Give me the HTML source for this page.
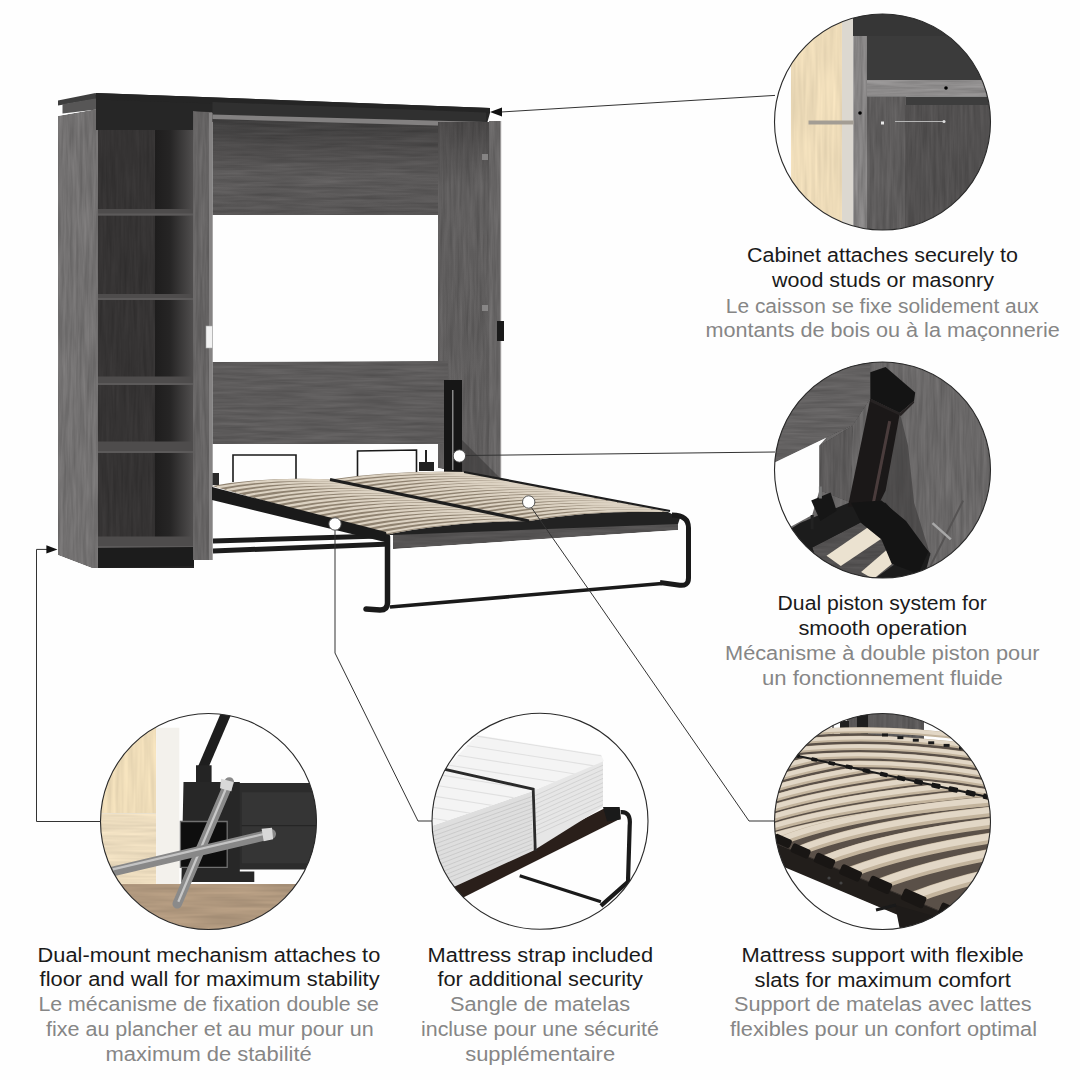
<!DOCTYPE html>
<html><head><meta charset="utf-8">
<style>
html,body{margin:0;padding:0;background:#fefefe;}
body{width:1080px;height:1080px;overflow:hidden;}
svg{display:block;}
text{font-family:"Liberation Sans",sans-serif;font-size:20px;}
.h{fill:#1a1a1a;}
.f{fill:#868686;}
</style></head><body>
<svg width="1080" height="1080" viewBox="0 0 1080 1080">
<defs>
<clipPath id="c1"><circle cx="882.5" cy="122" r="108"/></clipPath>
<clipPath id="c2"><circle cx="882.5" cy="470" r="108"/></clipPath>
<clipPath id="c3"><circle cx="882.5" cy="821.5" r="108"/></clipPath>
<clipPath id="c4"><circle cx="540" cy="821.3" r="108"/></clipPath>
<clipPath id="c5"><circle cx="208.5" cy="821.5" r="108"/></clipPath>
<filter id="gv" x="0" y="0" width="1" height="1" color-interpolation-filters="sRGB">
 <feTurbulence type="fractalNoise" baseFrequency="0.3 0.02" numOctaves="3" seed="4" result="n"/>
 <feColorMatrix in="n" type="matrix" values="1 0 0 0 0  1 0 0 0 0  1 0 0 0 0  0 0 0 0 1" result="g"/>
 <feComposite in="SourceGraphic" in2="g" operator="arithmetic" k1="0.32" k2="0.84" k3="0" k4="0" result="m"/>
 <feComposite in="m" in2="SourceGraphic" operator="in"/>
</filter>
<filter id="gh" x="0" y="0" width="1" height="1" color-interpolation-filters="sRGB">
 <feTurbulence type="fractalNoise" baseFrequency="0.02 0.3" numOctaves="3" seed="7" result="n"/>
 <feColorMatrix in="n" type="matrix" values="1 0 0 0 0  1 0 0 0 0  1 0 0 0 0  0 0 0 0 1" result="g"/>
 <feComposite in="SourceGraphic" in2="g" operator="arithmetic" k1="0.32" k2="0.84" k3="0" k4="0" result="m"/>
 <feComposite in="m" in2="SourceGraphic" operator="in"/>
</filter>
<filter id="gw" x="0" y="0" width="1" height="1" color-interpolation-filters="sRGB">
 <feTurbulence type="fractalNoise" baseFrequency="0.25 0.015" numOctaves="2" seed="11" result="n"/>
 <feColorMatrix in="n" type="matrix" values="1 0 0 0 0  1 0 0 0 0  1 0 0 0 0  0 0 0 0 1" result="g"/>
 <feComposite in="SourceGraphic" in2="g" operator="arithmetic" k1="0.14" k2="0.93" k3="0" k4="0" result="m"/>
 <feComposite in="m" in2="SourceGraphic" operator="in"/>
</filter>
<filter id="gwh" x="0" y="0" width="1" height="1" color-interpolation-filters="sRGB">
 <feTurbulence type="fractalNoise" baseFrequency="0.015 0.25" numOctaves="2" seed="12" result="n"/>
 <feColorMatrix in="n" type="matrix" values="1 0 0 0 0  1 0 0 0 0  1 0 0 0 0  0 0 0 0 1" result="g"/>
 <feComposite in="SourceGraphic" in2="g" operator="arithmetic" k1="0.2" k2="0.9" k3="0" k4="0" result="m"/>
 <feComposite in="m" in2="SourceGraphic" operator="in"/>
</filter>
</defs>
<rect width="1080" height="1080" fill="#fefefe"/>
<g id="cabinet">
<linearGradient id="bcR" x1="0" y1="0" x2="1" y2="0"><stop offset="0" stop-color="#1e1d1d"/><stop offset="0.4" stop-color="#262525"/><stop offset="1" stop-color="#504e4e"/></linearGradient>
<rect x="97" y="100" width="97" height="468" fill="#262525"/>
<g filter="url(#gv)"><rect x="98" y="128" width="58" height="412" fill="#353333"/></g>
<rect x="155" y="128" width="38" height="412" fill="url(#bcR)"/>
<rect x="97" y="100" width="97" height="30" fill="#1f1f1f"/>
<rect x="98" y="209" width="96" height="6.5" fill="#4e4c4c"/>
<rect x="98" y="213.5" width="96" height="2" fill="#5c5a5a"/>
<rect x="98" y="294" width="96" height="6" fill="#4e4c4c"/>
<rect x="98" y="298" width="96" height="2" fill="#5c5a5a"/>
<rect x="98" y="376.5" width="96" height="8.5" fill="#4e4c4c"/>
<rect x="98" y="383" width="96" height="2" fill="#5c5a5a"/>
<rect x="98" y="441.5" width="96" height="11.5" fill="#4e4c4c"/>
<rect x="98" y="451" width="96" height="2" fill="#5c5a5a"/>
<rect x="98" y="536.5" width="96" height="11.5" fill="#4e4c4c"/>
<rect x="98" y="546" width="96" height="2" fill="#5c5a5a"/>
<polygon points="92.0,548.0 194.0,547.0 194.0,566.0 92.0,568.0" fill="#1c1c1c"/>
<g filter="url(#gv)"><polygon points="58.0,116.0 98.0,109.0 98.0,568.0 92.0,568.0 58.0,555.0" fill="#737171"/></g>
<polygon points="58.0,100.5 95.5,93.0 97.0,99.0 58.0,105.5" fill="#3e3e3e"/>
<polygon points="62.5,104.2 97.0,98.2 97.0,109.5 62.5,113.5" fill="#575656"/>
<polygon points="96.0,93.0 490.0,108.0 490.0,113.0 486.0,127.0 212.5,122.0 193.0,113.0 193.0,130.0 96.0,130.0" fill="#262626"/>
<polygon points="95.5,93.0 490.0,108.0 490.0,113.0 96.0,99.5" fill="#252525"/>
<polygon points="212.5,102.0 486.0,112.5 486.0,123.0 212.5,115.0" fill="#303030"/>
<g filter="url(#gv)"><polygon points="193.0,111.0 212.5,112.0 212.5,560.0 193.0,560.0" fill="#666464"/></g>
<rect x="209" y="113" width="3.5" height="447" fill="#858383"/>
<linearGradient id="ubp" x1="0" y1="0" x2="0" y2="1"><stop offset="0" stop-color="#3e3d3d"/><stop offset="0.6" stop-color="#5c5a5a"/><stop offset="1" stop-color="#575555"/></linearGradient>
<g filter="url(#gh)"><polygon points="212.5,118.0 486.0,124.0 486.0,215.0 212.5,215.0" fill="url(#ubp)"/></g>
<polygon points="212.5,114.5 486.0,122.0 486.0,127.0 212.5,119.0" fill="#838181"/>
<linearGradient id="rsp" x1="0" y1="0" x2="0" y2="1"><stop offset="0" stop-color="#4a4848"/><stop offset="0.18" stop-color="#605e5e"/><stop offset="1" stop-color="#5f5d5d"/></linearGradient>
<g filter="url(#gv)"><polygon points="438.0,122.0 489.0,122.0 489.0,478.0 438.0,468.0" fill="url(#rsp)"/></g>
<g filter="url(#gv)"><polygon points="489.0,121.0 501.0,121.0 501.0,480.0 489.0,478.0" fill="#676565"/></g>
<rect x="500" y="121" width="1.2" height="359" fill="#9a9898"/>
<g filter="url(#gh)"><polygon points="212.5,362.0 448.0,361.0 448.0,444.0 212.5,444.0" fill="#5d5b5b"/></g>
<rect x="482" y="154" width="6" height="6" fill="#9a9898" opacity="0.7"/>
<rect x="482" y="305" width="6" height="6" fill="#9a9898" opacity="0.7"/>
<rect x="206" y="326" width="6.5" height="22" fill="#f2f2f2" stroke="#aaa" stroke-width="0.6"/>
<rect x="497" y="321" width="7" height="20" fill="#1a1a1a"/>
<polygon points="444.0,380.0 462.0,380.0 462.0,473.0 444.0,473.0" fill="#161616"/>
<rect x="452" y="390" width="1.5" height="80" fill="#888"/>
<polygon points="462.0,440.0 500.0,478.0 462.0,478.0" fill="#3a3838" opacity="0.6"/>
</g>
<g id="bed">
<path d="M233,482 L233,455 L296,455 L296,480" stroke="#1a1a1a" stroke-width="1.6" fill="none"/>
<path d="M357.5,476 L357.5,451 L416.5,450 L416.5,474" stroke="#1a1a1a" stroke-width="1.6" fill="none"/>
<polygon points="419.0,462.0 434.0,462.0 434.0,471.0 419.0,471.0" fill="#222"/>
<path d="M426,450 L426,462" stroke="#222" stroke-width="2"/>
<polygon points="212.5,473.0 219.0,473.0 219.0,485.0 212.5,485.0" fill="#2a2a2a"/>
<path d="M213,541 L380,536" stroke="#1c1c1c" stroke-width="5"/>
<path d="M213,551 L390,544" stroke="#1c1c1c" stroke-width="5"/>
<g filter="url(#gh)"><polygon points="393.0,533.0 678.0,522.0 678.0,530.0 393.0,549.0" fill="#555353"/></g>
<path d="M385.5,535 Q450.1,521.7 529,521 Q591.5,510.0 668,512 L680,518 L678,524 L393,535 Z" fill="#222222"/>
<path d="M212.0,486.0 Q265.1,476.1 330.0,479.5 L529.0,521.0 Q450.1,521.7 385.5,535.0 Z" fill="#8f8270"/>
<path d="M216.8,487.4 Q270.2,477.3 335.5,480.7" stroke="#dcd2c2" stroke-width="2.1" fill="none"/>
<path d="M226.5,490.1 Q280.5,479.9 346.6,483.0" stroke="#dcd2c2" stroke-width="2.1" fill="none"/>
<path d="M236.1,492.8 Q290.8,482.4 357.6,485.3" stroke="#dcd2c2" stroke-width="2.1" fill="none"/>
<path d="M245.7,495.5 Q301.1,484.9 368.7,487.6" stroke="#dcd2c2" stroke-width="2.1" fill="none"/>
<path d="M255.4,498.2 Q311.3,487.5 379.8,489.9" stroke="#dcd2c2" stroke-width="2.1" fill="none"/>
<path d="M265.0,501.0 Q321.6,490.0 390.8,492.2" stroke="#dcd2c2" stroke-width="2.1" fill="none"/>
<path d="M274.7,503.7 Q331.9,492.6 401.9,494.5" stroke="#dcd2c2" stroke-width="2.1" fill="none"/>
<path d="M284.3,506.4 Q342.2,495.1 412.9,496.8" stroke="#dcd2c2" stroke-width="2.1" fill="none"/>
<path d="M293.9,509.1 Q352.4,497.6 424.0,499.1" stroke="#dcd2c2" stroke-width="2.1" fill="none"/>
<path d="M303.6,511.9 Q362.7,500.2 435.0,501.4" stroke="#dcd2c2" stroke-width="2.1" fill="none"/>
<path d="M313.2,514.6 Q373.0,502.7 446.1,503.7" stroke="#dcd2c2" stroke-width="2.1" fill="none"/>
<path d="M322.8,517.3 Q383.3,505.2 457.1,506.0" stroke="#dcd2c2" stroke-width="2.1" fill="none"/>
<path d="M332.5,520.0 Q393.6,507.8 468.2,508.3" stroke="#dcd2c2" stroke-width="2.1" fill="none"/>
<path d="M342.1,522.8 Q403.8,510.3 479.2,510.6" stroke="#dcd2c2" stroke-width="2.1" fill="none"/>
<path d="M351.8,525.5 Q414.1,512.8 490.3,512.9" stroke="#dcd2c2" stroke-width="2.1" fill="none"/>
<path d="M361.4,528.2 Q424.4,515.4 501.4,515.2" stroke="#dcd2c2" stroke-width="2.1" fill="none"/>
<path d="M371.0,530.9 Q434.7,517.9 512.4,517.5" stroke="#dcd2c2" stroke-width="2.1" fill="none"/>
<path d="M380.7,533.6 Q444.9,520.4 523.5,519.8" stroke="#dcd2c2" stroke-width="2.1" fill="none"/>
<path d="M330.0,479.5 Q390.3,470.1 464.0,472.0 L668.0,512.0 Q591.5,510.0 529.0,521.0 Z" fill="#8f8270"/>
<path d="M335.5,480.7 Q395.9,471.2 469.7,473.1" stroke="#dcd2c2" stroke-width="2.1" fill="none"/>
<path d="M346.6,483.0 Q407.1,473.4 481.0,475.3" stroke="#dcd2c2" stroke-width="2.1" fill="none"/>
<path d="M357.6,485.3 Q418.3,475.7 492.3,477.6" stroke="#dcd2c2" stroke-width="2.1" fill="none"/>
<path d="M368.7,487.6 Q429.4,477.9 503.7,479.8" stroke="#dcd2c2" stroke-width="2.1" fill="none"/>
<path d="M379.8,489.9 Q440.6,480.1 515.0,482.0" stroke="#dcd2c2" stroke-width="2.1" fill="none"/>
<path d="M390.8,492.2 Q451.8,482.3 526.3,484.2" stroke="#dcd2c2" stroke-width="2.1" fill="none"/>
<path d="M401.9,494.5 Q463.0,484.5 537.7,486.4" stroke="#dcd2c2" stroke-width="2.1" fill="none"/>
<path d="M412.9,496.8 Q474.2,486.7 549.0,488.7" stroke="#dcd2c2" stroke-width="2.1" fill="none"/>
<path d="M424.0,499.1 Q485.3,488.9 560.3,490.9" stroke="#dcd2c2" stroke-width="2.1" fill="none"/>
<path d="M435.0,501.4 Q496.5,491.1 571.7,493.1" stroke="#dcd2c2" stroke-width="2.1" fill="none"/>
<path d="M446.1,503.7 Q507.7,493.4 583.0,495.3" stroke="#dcd2c2" stroke-width="2.1" fill="none"/>
<path d="M457.1,506.0 Q518.9,495.6 594.3,497.6" stroke="#dcd2c2" stroke-width="2.1" fill="none"/>
<path d="M468.2,508.3 Q530.1,497.8 605.7,499.8" stroke="#dcd2c2" stroke-width="2.1" fill="none"/>
<path d="M479.2,510.6 Q541.2,500.0 617.0,502.0" stroke="#dcd2c2" stroke-width="2.1" fill="none"/>
<path d="M490.3,512.9 Q552.4,502.2 628.3,504.2" stroke="#dcd2c2" stroke-width="2.1" fill="none"/>
<path d="M501.4,515.2 Q563.6,504.4 639.7,506.4" stroke="#dcd2c2" stroke-width="2.1" fill="none"/>
<path d="M512.4,517.5 Q574.8,506.6 651.0,508.7" stroke="#dcd2c2" stroke-width="2.1" fill="none"/>
<path d="M523.5,519.8 Q586.0,508.8 662.3,510.9" stroke="#dcd2c2" stroke-width="2.1" fill="none"/>
<path d="M330,479.5 L529,521" stroke="#1e1e1e" stroke-width="3.2"/>
<polygon points="212.0,487.0 386.0,532.0 389.0,543.0 212.0,500.0" fill="#1a1a1a"/>
<path d="M464,472 L670,511" stroke="#1e1e1e" stroke-width="2.2"/>
<path d="M387.5,537 L387.5,603 Q387.5,610 380,610 L366,609" stroke="#1a1a1a" stroke-width="5.5" fill="none" stroke-linecap="round"/>
<path d="M390,607 L662,583.5" stroke="#1a1a1a" stroke-width="3.6" fill="none"/>
<path d="M672,515 Q688.5,515 688.5,528 L688.5,578 Q688.5,587 678,585 L660,582.5" stroke="#1a1a1a" stroke-width="5" fill="none"/>
</g>
<g clip-path="url(#c1)">
<rect x="770" y="10" width="230" height="230" fill="#fefefe"/>
<g filter="url(#gw)"><rect x="790.8" y="10" width="51.5" height="230" fill="#eddbb8"/></g>
<rect x="842" y="10" width="11.5" height="230" fill="#dcd8d0"/>
<g filter="url(#gv)"><rect x="853.3" y="36" width="14" height="200" fill="#858383"/></g>
<rect x="853" y="10" width="140" height="26" fill="#363636"/>
<rect x="867" y="36" width="126" height="44" fill="#3b3b3b"/>
<g filter="url(#gh)"><rect x="867" y="80" width="126" height="16.5" fill="#8e8c8c"/></g>
<rect x="867" y="96.5" width="126" height="8.5" fill="#3d3d3d"/>
<g filter="url(#gv)"><rect x="867" y="96.5" width="39" height="140" fill="#5e5c5c"/></g>
<g filter="url(#gv)"><rect x="905" y="105" width="90" height="135" fill="#525050"/></g>
<rect x="808.5" y="120.5" width="45" height="4" fill="#a39d94"/>
<path d="M895,121.5 L944,121.5" stroke="#b5b5b5" stroke-width="1.2"/>
<circle cx="944" cy="121.5" r="1.5" fill="#ddd"/>
<circle cx="860" cy="113" r="1.8" fill="#000"/>
<circle cx="946" cy="88" r="1.8" fill="#000"/>
<rect x="881" y="121.5" width="3" height="3" fill="#e8e8e8"/>
</g>
<g clip-path="url(#c2)">
<g filter="url(#gv)"><rect x="770" y="358" width="230" height="230" fill="#6a6868"/></g>
<g filter="url(#gh)"><polygon points="767.4,355.9 870.3,355.9 870.3,398.7 853.0,425.2 826.5,437.5 767.4,466.0" fill="#636161"/></g>
<polygon points="767.4,466.0 826.5,437.5 819.4,445.6 819.4,490.5 812.2,514.9 767.4,539.4" fill="#fefefe"/>
<g filter="url(#gv)"><polygon points="819.4,445.6 853.0,425.2 851.0,502.7 819.4,490.5" fill="#5c5a5a"/></g>
<polygon points="899.9,413.0 908.0,445.6 914.1,502.7 930.5,555.7 885.6,563.8 877.5,502.7" fill="#3a3838" opacity="0.6"/>
<path d="M963.1,500.6 L930.5,565.9" stroke="#555353" stroke-width="2" fill="none"/>
<polygon points="767.4,543.4 800.0,523.1 848.9,502.7 885.6,502.7 930.5,553.6 922.3,584.2 767.4,584.2" fill="#1c1c1c"/>
<g filter="url(#gh)"><polygon points="812.2,547.5 867.3,519.0 910.1,553.6 867.3,584.2 824.5,584.2" fill="#525050"/></g>
<polygon points="826.5,555.7 871.3,525.1 883.6,537.3 840.8,565.9" fill="#ebe2d0"/>
<polygon points="861.1,572.0 891.7,545.5 901.9,555.7 873.4,579.1" fill="#ebe2d0"/>
<polygon points="811.2,500.6 830.6,492.5 836.7,510.8 820.4,521.0" fill="#161616"/>
<path d="M820.4,486.4 L820.4,498.6" stroke="#777" stroke-width="3" fill="none"/>
<path d="M812.2,514.9 L812.2,529.2" stroke="#222" stroke-width="3" fill="none"/>
<polygon points="870.3,398.7 899.9,413.0 885.6,490.5 877.5,506.8 847.9,506.8" fill="#1b1818"/>
<path d="M889.7,421.1 L873.4,502.7" stroke="#4a3c3c" stroke-width="3" fill="none"/>
<polygon points="851.0,502.7 881.5,500.6 906.0,521.0 928.4,551.6 918.2,574.0 891.7,563.8 881.5,539.4 861.1,523.1" fill="#141414"/>
<polygon points="870.3,372.2 885.6,367.1 915.2,392.6 914.1,400.8 899.9,413.0 870.3,398.7" fill="#141414"/>
<polygon points="870.3,398.7 899.9,413.0 914.1,400.8 914.1,402.8 900.9,416.1 870.3,401.8" fill="#262222"/>
<path d="M932.5,523.1 L950.8,539.4" stroke="#a8a8a8" stroke-width="2.5" fill="none"/>
</g>
<g clip-path="url(#c3)">
<rect x="770" y="709" width="230" height="230" fill="#fefefe"/>
<g filter="url(#gv)"><polygon points="847.0,712.0 924.0,712.0 924.0,741.0 847.0,741.0" fill="#5c5a5a"/></g>
<polygon points="857.0,712.0 868.0,712.0 868.0,736.0 857.0,736.0" fill="#1e1e1e"/>
<polygon points="840.0,721.0 849.0,721.0 849.0,736.0 840.0,736.0" fill="#1e1e1e"/>
<path d="M833,723 L833,737" stroke="#222" stroke-width="1.2"/>
<polygon points="770.0,736.0 860.0,733.0 960.0,745.0 1000.0,770.0 1000.0,960.0 770.0,860.0" fill="#5a5048"/>
<clipPath id="c3lo"><polygon points="770,749 797,755.8 988,797 1000,800 1000,1000 770,1000"/></clipPath>
<clipPath id="c3up"><polygon points="770,700 1000,700 1000,800 988,797 797,755.8 770,749"/></clipPath>
<g clip-path="url(#c3up)">
<path d="M768.0,737.0 Q875.0,721.0 1002.0,743.0" stroke="#c3b49d" stroke-width="5.8" fill="none"/>
<path d="M768.0,736.1 Q875.0,720.1 1002.0,742.1" stroke="#e2d7c6" stroke-width="3.6" fill="none"/>
<path d="M768.0,745.3 Q875.0,729.3 1002.0,751.7" stroke="#c3b49d" stroke-width="5.9" fill="none"/>
<path d="M768.0,744.4 Q875.0,728.4 1002.0,750.8" stroke="#e2d7c6" stroke-width="3.7" fill="none"/>
<path d="M768.0,753.6 Q875.0,737.6 1002.0,760.4" stroke="#c3b49d" stroke-width="6.0" fill="none"/>
<path d="M768.0,752.7 Q875.0,736.7 1002.0,759.5" stroke="#e2d7c6" stroke-width="3.7" fill="none"/>
<path d="M768.0,761.9 Q875.0,745.9 1002.0,769.1" stroke="#c3b49d" stroke-width="6.2" fill="none"/>
<path d="M768.0,761.0 Q875.0,745.0 1002.0,768.2" stroke="#e2d7c6" stroke-width="3.8" fill="none"/>
<path d="M768.0,770.2 Q875.0,754.2 1002.0,777.8" stroke="#c3b49d" stroke-width="6.3" fill="none"/>
<path d="M768.0,769.3 Q875.0,753.3 1002.0,776.9" stroke="#e2d7c6" stroke-width="3.9" fill="none"/>
<path d="M768.0,778.5 Q875.0,762.5 1002.0,786.5" stroke="#c3b49d" stroke-width="6.4" fill="none"/>
<path d="M768.0,777.5 Q875.0,761.5 1002.0,785.5" stroke="#e2d7c6" stroke-width="4.0" fill="none"/>
<path d="M768.0,786.8 Q875.0,770.8 1002.0,795.2" stroke="#c3b49d" stroke-width="6.5" fill="none"/>
<path d="M768.0,785.8 Q875.0,769.8 1002.0,794.2" stroke="#e2d7c6" stroke-width="4.0" fill="none"/>
<path d="M768.0,795.1 Q875.0,779.1 1002.0,803.9" stroke="#c3b49d" stroke-width="6.6" fill="none"/>
<path d="M768.0,794.1 Q875.0,778.1 1002.0,802.9" stroke="#e2d7c6" stroke-width="4.1" fill="none"/>
<path d="M768.0,803.4 Q875.0,787.4 1002.0,812.6" stroke="#c3b49d" stroke-width="6.8" fill="none"/>
<path d="M768.0,802.4 Q875.0,786.4 1002.0,811.6" stroke="#e2d7c6" stroke-width="4.2" fill="none"/>
<path d="M768.0,811.7 Q875.0,795.7 1002.0,821.3" stroke="#c3b49d" stroke-width="6.9" fill="none"/>
<path d="M768.0,810.7 Q875.0,794.7 1002.0,820.3" stroke="#e2d7c6" stroke-width="4.3" fill="none"/>
</g>
<g clip-path="url(#c3lo)">
<path d="M768.0,752.0 Q865.0,722.0 1068.0,710.0" stroke="#c3b49d" stroke-width="6.3" fill="none"/>
<path d="M768.0,751.1 Q865.0,721.1 1068.0,709.1" stroke="#e2d7c6" stroke-width="3.9" fill="none"/>
<path d="M768.0,761.6 Q865.0,731.6 1068.0,719.6" stroke="#c3b49d" stroke-width="6.5" fill="none"/>
<path d="M768.0,760.6 Q865.0,730.6 1068.0,718.6" stroke="#e2d7c6" stroke-width="4.0" fill="none"/>
<path d="M768.0,771.2 Q865.0,741.2 1068.0,729.2" stroke="#c3b49d" stroke-width="6.7" fill="none"/>
<path d="M768.0,770.2 Q865.0,740.2 1068.0,728.2" stroke="#e2d7c6" stroke-width="4.2" fill="none"/>
<path d="M768.0,780.8 Q865.0,750.8 1068.0,738.8" stroke="#c3b49d" stroke-width="6.9" fill="none"/>
<path d="M768.0,779.8 Q865.0,749.8 1068.0,737.8" stroke="#e2d7c6" stroke-width="4.3" fill="none"/>
<path d="M768.0,790.4 Q865.0,760.4 1068.0,748.4" stroke="#c3b49d" stroke-width="7.1" fill="none"/>
<path d="M768.0,789.3 Q865.0,759.3 1068.0,747.3" stroke="#e2d7c6" stroke-width="4.4" fill="none"/>
<path d="M768.0,800.0 Q865.0,770.0 1068.0,758.0" stroke="#c3b49d" stroke-width="7.3" fill="none"/>
<path d="M768.0,798.9 Q865.0,768.9 1068.0,756.9" stroke="#e2d7c6" stroke-width="4.5" fill="none"/>
<path d="M768.0,809.6 Q865.0,779.6 1068.0,767.6" stroke="#c3b49d" stroke-width="7.5" fill="none"/>
<path d="M768.0,808.5 Q865.0,778.5 1068.0,766.5" stroke="#e2d7c6" stroke-width="4.7" fill="none"/>
<path d="M768.0,819.2 Q865.0,789.2 1068.0,777.2" stroke="#c3b49d" stroke-width="7.7" fill="none"/>
<path d="M768.0,818.0 Q865.0,788.0 1068.0,776.0" stroke="#e2d7c6" stroke-width="4.8" fill="none"/>
<path d="M768.0,828.8 Q865.0,798.8 1068.0,786.8" stroke="#c3b49d" stroke-width="7.9" fill="none"/>
<path d="M768.0,827.6 Q865.0,797.6 1068.0,785.6" stroke="#e2d7c6" stroke-width="4.9" fill="none"/>
<path d="M768.0,838.4 Q865.0,808.4 1068.0,796.4" stroke="#c3b49d" stroke-width="8.1" fill="none"/>
<path d="M768.0,837.2 Q865.0,807.2 1068.0,795.2" stroke="#e2d7c6" stroke-width="5.0" fill="none"/>
<path d="M783.0,840.0 Q873.0,805.0 1083.0,795.0" stroke="#c3b49d" stroke-width="9.2" fill="none"/>
<path d="M783.0,838.6 Q873.0,803.6 1083.0,793.6" stroke="#e2d7c6" stroke-width="5.7" fill="none"/>
<path d="M801.0,850.0 Q897.3,812.5 1122.0,801.9" stroke="#c3b49d" stroke-width="9.8" fill="none"/>
<path d="M801.0,848.5 Q897.3,811.1 1122.0,800.4" stroke="#e2d7c6" stroke-width="6.1" fill="none"/>
<path d="M825.0,860.0 Q927.6,820.1 1167.0,808.7" stroke="#c3b49d" stroke-width="10.4" fill="none"/>
<path d="M825.0,858.4 Q927.6,818.5 1167.0,807.1" stroke="#e2d7c6" stroke-width="6.4" fill="none"/>
<path d="M851.0,872.0 Q959.9,829.6 1214.0,817.5" stroke="#c3b49d" stroke-width="11.0" fill="none"/>
<path d="M851.0,870.4 Q959.9,828.0 1214.0,815.9" stroke="#e2d7c6" stroke-width="6.8" fill="none"/>
<path d="M880.5,884.0 Q995.7,839.2 1264.5,826.4" stroke="#c3b49d" stroke-width="11.6" fill="none"/>
<path d="M880.5,882.3 Q995.7,837.5 1264.5,824.7" stroke="#e2d7c6" stroke-width="7.2" fill="none"/>
<path d="M914.0,897.5 Q1035.5,850.2 1319.0,836.8" stroke="#c3b49d" stroke-width="12.2" fill="none"/>
<path d="M914.0,895.7 Q1035.5,848.4 1319.0,834.9" stroke="#e2d7c6" stroke-width="7.6" fill="none"/>
<path d="M952.0,912.0 Q1079.8,862.3 1378.0,848.1" stroke="#c3b49d" stroke-width="12.8" fill="none"/>
<path d="M952.0,910.1 Q1079.8,860.4 1378.0,846.2" stroke="#e2d7c6" stroke-width="7.9" fill="none"/>
</g>
<path d="M797,755.8 L988,797" stroke="#1a1a1a" stroke-width="2"/>
<rect x="794.0" y="754.0" width="6.0" height="3.5" rx="1" fill="#161616" transform="rotate(12 797.0 755.8)"/>
<rect x="811.2" y="757.7" width="6.4" height="3.7" rx="1" fill="#161616" transform="rotate(12 814.4 759.5)"/>
<rect x="828.4" y="761.4" width="6.7" height="3.9" rx="1" fill="#161616" transform="rotate(12 831.7 763.3)"/>
<rect x="845.5" y="765.0" width="7.1" height="4.0" rx="1" fill="#161616" transform="rotate(12 849.1 767.0)"/>
<rect x="862.7" y="768.7" width="7.5" height="4.2" rx="1" fill="#161616" transform="rotate(12 866.5 770.8)"/>
<rect x="879.9" y="772.3" width="7.8" height="4.4" rx="1" fill="#161616" transform="rotate(12 883.8 774.5)"/>
<rect x="897.1" y="776.0" width="8.2" height="4.6" rx="1" fill="#161616" transform="rotate(12 901.2 778.3)"/>
<rect x="914.3" y="779.6" width="8.5" height="4.8" rx="1" fill="#161616" transform="rotate(12 918.5 782.0)"/>
<rect x="931.5" y="783.3" width="8.9" height="5.0" rx="1" fill="#161616" transform="rotate(12 935.9 785.8)"/>
<rect x="948.6" y="786.9" width="9.3" height="5.1" rx="1" fill="#161616" transform="rotate(12 953.3 789.5)"/>
<rect x="965.8" y="790.6" width="9.6" height="5.3" rx="1" fill="#161616" transform="rotate(12 970.6 793.3)"/>
<rect x="983.0" y="794.2" width="10.0" height="5.5" rx="1" fill="#161616" transform="rotate(12 988.0 797.0)"/>
<rect x="882.0" y="733.5" width="6" height="3" fill="#1a1a1a"/>
<rect x="897.4" y="736.1" width="6" height="3" fill="#1a1a1a"/>
<rect x="912.8" y="738.7" width="6" height="3" fill="#1a1a1a"/>
<rect x="928.2" y="741.3" width="6" height="3" fill="#1a1a1a"/>
<rect x="943.6" y="743.9" width="6" height="3" fill="#1a1a1a"/>
<rect x="959.0" y="746.5" width="6" height="3" fill="#1a1a1a"/>
<polygon points="770.0,860.0 1000.0,958.0 1000.0,1000.0 770.0,1000.0" fill="#fefefe"/>
<polygon points="770.0,841.0 1000.0,936.0 1000.0,958.0 770.0,861.0" fill="#221e1b"/>
<path d="M770,841 L1000,936" stroke="#3a3430" stroke-width="1"/>
<rect x="774.0" y="836.5" width="18.0" height="9.0" rx="2.5" fill="#191614" transform="rotate(24 783.0 840.0)"/>
<rect x="791.4" y="846.2" width="19.3" height="9.6" rx="2.5" fill="#191614" transform="rotate(24 801.0 850.0)"/>
<rect x="814.7" y="855.9" width="20.5" height="10.3" rx="2.5" fill="#191614" transform="rotate(24 825.0 860.0)"/>
<rect x="840.1" y="867.6" width="21.8" height="10.9" rx="2.5" fill="#191614" transform="rotate(24 851.0 872.0)"/>
<rect x="869.0" y="879.2" width="23.0" height="11.5" rx="2.5" fill="#191614" transform="rotate(24 880.5 884.0)"/>
<rect x="901.9" y="892.4" width="24.3" height="12.2" rx="2.5" fill="#191614" transform="rotate(24 914.0 897.5)"/>
<rect x="939.2" y="906.6" width="25.6" height="12.8" rx="2.5" fill="#191614" transform="rotate(24 952.0 912.0)"/>
<polygon points="895.0,905.0 1000.0,935.0 1000.0,960.0 900.0,930.0" fill="#1e1b19"/>
<path d="M876,910 L896,905" stroke="#1a1a1a" stroke-width="3"/>
<circle cx="829" cy="878" r="1.6" fill="#444"/><circle cx="841" cy="883" r="1.6" fill="#444"/>
</g>
<g clip-path="url(#c4)">
<rect x="428" y="709" width="230" height="230" fill="#fefefe"/>
<path d="M519.7,875.7 L600.9,901.7" stroke="#1a1a1a" stroke-width="3.2" fill="none"/>
<path d="M620.7,812.1 Q631.1,811.1 629.7,825.7 L628.0,881.9 L600.9,905.9" stroke="#1a1a1a" stroke-width="4.2" fill="none"/>
<polygon points="453.0,886.1 605.1,808.0 619.7,809.0 620.7,818.4 461.3,898.6 453.0,896.5" fill="#2a1f1a"/>
<polygon points="603.0,806.9 619.7,806.9 620.7,819.4 607.2,821.5" fill="#1a1a1a"/>
<polygon points="432.2,825.7 532.2,791.3 533.2,850.7 450.9,888.2 432.2,892.3" fill="#dedede"/>
<polygon points="532.2,791.3 603.0,760.0 603.0,806.9 533.2,850.7" fill="#e6e6e6"/>
<path d="M432.2,831.9 L532.2,796.5" stroke="#c8c8c8" stroke-width="0.9" fill="none"/>
<path d="M432.2,836.3 L532.2,800.5" stroke="#c8c8c8" stroke-width="0.9" fill="none"/>
<path d="M432.2,840.7 L532.2,804.4" stroke="#c8c8c8" stroke-width="0.9" fill="none"/>
<path d="M432.2,845.0 L532.2,808.4" stroke="#c8c8c8" stroke-width="0.9" fill="none"/>
<path d="M432.2,849.4 L532.2,812.3" stroke="#c8c8c8" stroke-width="0.9" fill="none"/>
<path d="M432.2,853.8 L532.2,816.3" stroke="#c8c8c8" stroke-width="0.9" fill="none"/>
<path d="M432.2,858.2 L532.2,820.2" stroke="#c8c8c8" stroke-width="0.9" fill="none"/>
<path d="M432.2,862.5 L532.2,824.2" stroke="#c8c8c8" stroke-width="0.9" fill="none"/>
<path d="M432.2,866.9 L532.2,828.2" stroke="#c8c8c8" stroke-width="0.9" fill="none"/>
<path d="M432.2,871.3 L532.2,832.1" stroke="#c8c8c8" stroke-width="0.9" fill="none"/>
<path d="M432.2,875.7 L532.2,836.1" stroke="#c8c8c8" stroke-width="0.9" fill="none"/>
<path d="M432.2,880.0 L532.2,840.0" stroke="#c8c8c8" stroke-width="0.9" fill="none"/>
<path d="M432.2,884.4 L532.2,844.0" stroke="#c8c8c8" stroke-width="0.9" fill="none"/>
<path d="M432.2,888.8 L532.2,848.0" stroke="#c8c8c8" stroke-width="0.9" fill="none"/>
<path d="M533.2,796.5 L603.0,765.2" stroke="#d0d0d0" stroke-width="0.9" fill="none"/>
<path d="M533.2,800.9 L603.0,769.6" stroke="#d0d0d0" stroke-width="0.9" fill="none"/>
<path d="M533.2,805.2 L603.0,774.0" stroke="#d0d0d0" stroke-width="0.9" fill="none"/>
<path d="M533.2,809.6 L603.0,778.4" stroke="#d0d0d0" stroke-width="0.9" fill="none"/>
<path d="M533.2,814.0 L603.0,782.8" stroke="#d0d0d0" stroke-width="0.9" fill="none"/>
<path d="M533.2,818.4 L603.0,787.1" stroke="#d0d0d0" stroke-width="0.9" fill="none"/>
<path d="M533.2,822.8 L603.0,791.5" stroke="#d0d0d0" stroke-width="0.9" fill="none"/>
<path d="M533.2,827.1 L603.0,795.9" stroke="#d0d0d0" stroke-width="0.9" fill="none"/>
<path d="M533.2,831.5 L603.0,800.2" stroke="#d0d0d0" stroke-width="0.9" fill="none"/>
<path d="M533.2,835.9 L603.0,804.6" stroke="#d0d0d0" stroke-width="0.9" fill="none"/>
<clipPath id="c4top"><polygon points="432.2,825.7 432.2,771.5 448.8,765.2 477.0,735.0 600.9,754.8 604.0,761.1 532.2,791.3"/></clipPath>
<polygon points="432.2,825.7 432.2,771.5 448.8,765.2 477.0,735.0 600.9,754.8 604.0,761.1 532.2,791.3" fill="#f4f4f4"/>
<g clip-path="url(#c4top)">
<path d="M544.5,679.8 L711.1,706.3" stroke="#e0e0e0" stroke-width="1.1" fill="none"/>
<path d="M533.2,689.2 L699.9,715.7" stroke="#e0e0e0" stroke-width="1.1" fill="none"/>
<path d="M522.0,698.6 L688.6,725.0" stroke="#e0e0e0" stroke-width="1.1" fill="none"/>
<path d="M510.7,708.0 L677.4,734.4" stroke="#e0e0e0" stroke-width="1.1" fill="none"/>
<path d="M499.5,717.3 L666.1,743.8" stroke="#e0e0e0" stroke-width="1.1" fill="none"/>
<path d="M488.2,726.7 L654.9,753.2" stroke="#e0e0e0" stroke-width="1.1" fill="none"/>
<path d="M477.0,736.1 L643.6,762.5" stroke="#e0e0e0" stroke-width="1.1" fill="none"/>
<path d="M465.7,745.5 L632.4,771.9" stroke="#e0e0e0" stroke-width="1.1" fill="none"/>
<path d="M454.5,754.8 L621.1,781.3" stroke="#e0e0e0" stroke-width="1.1" fill="none"/>
<path d="M443.2,764.2 L609.9,790.7" stroke="#e0e0e0" stroke-width="1.1" fill="none"/>
<path d="M432.0,773.6 L598.6,800.0" stroke="#e0e0e0" stroke-width="1.1" fill="none"/>
<path d="M420.7,783.0 L587.4,809.4" stroke="#e0e0e0" stroke-width="1.1" fill="none"/>
<path d="M409.5,792.3 L576.1,818.8" stroke="#e0e0e0" stroke-width="1.1" fill="none"/>
<path d="M398.2,801.7 L564.9,828.2" stroke="#e0e0e0" stroke-width="1.1" fill="none"/>
<path d="M387.0,811.1 L553.6,837.5" stroke="#e0e0e0" stroke-width="1.1" fill="none"/>
</g>
<path d="M440.5,768.4 L533.2,789.2 L535.3,850.7" stroke="#2a2a2a" stroke-width="2.8" fill="none"/>
</g>
<g clip-path="url(#c5)">
<rect x="96" y="709" width="230" height="230" fill="#fefefe"/>
<g filter="url(#gw)"><polygon points="96.0,709.0 156.4,709.0 156.4,813.2 96.0,813.2" fill="#eedcb8"/></g>
<g filter="url(#gwh)"><polygon points="96.0,813.2 156.4,813.2 156.4,885.0 96.0,885.0" fill="#ecdcbe"/></g>
<polygon points="156.4,727.8 179.3,727.8 179.3,884.0 156.4,884.0" fill="#f3f1ec"/>
<g filter="url(#gwh)"><polygon points="96.0,884.0 321.0,884.0 321.0,934.0 96.0,934.0" fill="#b0987e"/></g>
<path d="M226.2,713.2 L202.2,769.4" stroke="#1e1e1e" stroke-width="10" stroke-linecap="butt" fill="none"/>
<polygon points="196.0,765.2 211.6,765.2 211.6,798.6 196.0,798.6" fill="#242424"/>
<polygon points="233.5,783.0 321.0,783.0 321.0,869.4 233.5,869.4" fill="#2c2c2c"/>
<polygon points="241.8,792.3 321.0,792.3 321.0,863.2 241.8,863.2" fill="#353535"/>
<path d="M241.8,825.7 L321.0,825.7" stroke="#222" stroke-width="1"/>
<polygon points="183.5,781.9 239.8,781.9 239.8,871.5 254.3,871.5 254.3,881.9 181.4,881.9" fill="#272727"/>
<polygon points="180.4,821.5 227.2,821.5 227.2,867.3 180.4,867.3" fill="#0e0e0e" stroke="#707070" stroke-width="1.3"/>
<path d="M177.2,903.8 L229.3,781.9" stroke="#8a8a8a" stroke-width="9.5" stroke-linecap="round" fill="none"/>
<path d="M178.3,901.7 L228.3,783.0" stroke="#c8c8c8" stroke-width="2.2" stroke-linecap="butt" fill="none"/>
<path d="M112.7,871.5 L271.0,834.0" stroke="#888888" stroke-width="10" stroke-linecap="round" fill="none"/>
<path d="M112.7,869.4 L271.0,832.3" stroke="#c4c4c4" stroke-width="2.2" stroke-linecap="butt" fill="none"/>
<polygon points="261.6,828.8 272.0,827.8 273.1,839.2 263.7,841.3" fill="#d8d8d8"/>
<polygon points="221.0,778.8 233.5,781.9 231.4,791.3 220.0,788.2" fill="#d8d8d8"/>
</g>
<g fill="none" stroke="#2a2a2a" stroke-width="1.1">
<circle cx="882.5" cy="122" r="108"/>
<circle cx="882.5" cy="470" r="108"/>
<circle cx="882.5" cy="821.5" r="108"/>
<circle cx="540" cy="821.3" r="108"/>
<circle cx="208.5" cy="821.5" r="108"/>
</g>
<g fill="none" stroke="#333" stroke-width="1">
<path d="M775,95.4 L501,112"/>
<path d="M466,455.5 L775,452"/>
<path d="M335,530 L335,653 L418,821 L432,821"/>
<path d="M531,507 L596,600 L749,821 L775,821"/>
<path d="M100.5,821.5 L36.5,821.5 L36.5,549.4 L47,549.4"/>
</g>
<polygon points="490,112 502,107.5 502,116.5" fill="#111"/>
<polygon points="57.5,549.4 46.4,545.3 46.4,553.5" fill="#111"/>
<g fill="#fff" stroke="#444" stroke-width="0.9">
<circle cx="335" cy="524" r="6.2"/>
<circle cx="459.4" cy="456" r="6.2"/>
<circle cx="528.7" cy="502" r="6.2"/>
</g>
<text class="h" x="747.0" y="262.1" textLength="271.0" lengthAdjust="spacingAndGlyphs">Cabinet attaches securely to</text>
<text class="h" x="772.0" y="287.3" textLength="222.0" lengthAdjust="spacingAndGlyphs">wood studs or masonry</text>
<text class="f" x="725.8" y="312.5" textLength="313.0" lengthAdjust="spacingAndGlyphs">Le caisson se fixe solidement aux</text>
<text class="f" x="705.6" y="337.3" textLength="354.2" lengthAdjust="spacingAndGlyphs">montants de bois ou à la maçonnerie</text>
<text class="h" x="777.6" y="609.6" textLength="209.2" lengthAdjust="spacingAndGlyphs">Dual piston system for</text>
<text class="h" x="798.4" y="634.6" textLength="168.8" lengthAdjust="spacingAndGlyphs">smooth operation</text>
<text class="f" x="725.0" y="659.8" textLength="314.5" lengthAdjust="spacingAndGlyphs">Mécanisme à double piston pour</text>
<text class="f" x="762.0" y="684.6" textLength="240.9" lengthAdjust="spacingAndGlyphs">un fonctionnement fluide</text>
<text class="h" x="741.6" y="961.7" textLength="282.2" lengthAdjust="spacingAndGlyphs">Mattress support with flexible</text>
<text class="h" x="754.6" y="986.5" textLength="256.2" lengthAdjust="spacingAndGlyphs">slats for maximum comfort</text>
<text class="f" x="734.0" y="1011.3" textLength="297.6" lengthAdjust="spacingAndGlyphs">Support de matelas avec lattes</text>
<text class="f" x="730.0" y="1036.4" textLength="307.0" lengthAdjust="spacingAndGlyphs">flexibles pour un confort optimal</text>
<text class="h" x="427.6" y="961.7" textLength="225.5" lengthAdjust="spacingAndGlyphs">Mattress strap included</text>
<text class="h" x="437.4" y="986.4" textLength="205.6" lengthAdjust="spacingAndGlyphs">for additional security</text>
<text class="f" x="450.0" y="1011.1" textLength="180.1" lengthAdjust="spacingAndGlyphs">Sangle de matelas</text>
<text class="f" x="421.0" y="1036.4" textLength="237.8" lengthAdjust="spacingAndGlyphs">incluse pour une sécurité</text>
<text class="f" x="465.2" y="1061.1" textLength="149.9" lengthAdjust="spacingAndGlyphs">supplémentaire</text>
<text class="h" x="37.6" y="961.7" textLength="342.7" lengthAdjust="spacingAndGlyphs">Dual-mount mechanism attaches to</text>
<text class="h" x="39.6" y="986.4" textLength="340.0" lengthAdjust="spacingAndGlyphs">floor and wall for maximum stability</text>
<text class="f" x="38.4" y="1011.1" textLength="340.6" lengthAdjust="spacingAndGlyphs">Le mécanisme de fixation double se</text>
<text class="f" x="46.0" y="1036.4" textLength="327.7" lengthAdjust="spacingAndGlyphs">fixe au plancher et au mur pour un</text>
<text class="f" x="105.6" y="1061.3" textLength="206.1" lengthAdjust="spacingAndGlyphs">maximum de stabilité</text>
</svg>
</body></html>
